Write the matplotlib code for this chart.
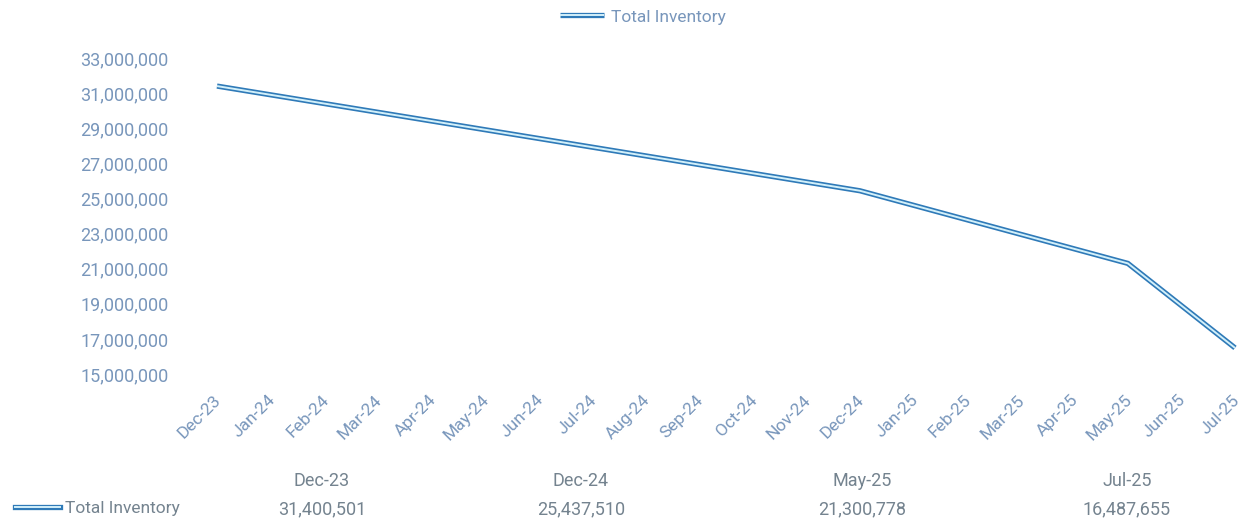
import matplotlib
matplotlib.use("Agg")
import matplotlib.pyplot as plt
import matplotlib.transforms as mtransforms
from matplotlib.lines import Line2D
from matplotlib.ticker import FuncFormatter

plt.rcParams['font.family'] = ['Roboto', 'DejaVu Sans']

# month categories on the x axis
months = ['Dec-23', 'Jan-24', 'Feb-24', 'Mar-24', 'Apr-24', 'May-24', 'Jun-24',
          'Jul-24', 'Aug-24', 'Sep-24', 'Oct-24', 'Nov-24', 'Dec-24', 'Jan-25',
          'Feb-25', 'Mar-25', 'Apr-25', 'May-25', 'Jun-25', 'Jul-25']

# only these months carry a value
point_months = ['Dec-23', 'Dec-24', 'May-25', 'Jul-25']
inventory = [31400501, 25437510, 21300778, 16487655]

y_ticks = [15000000, 17000000, 19000000, 21000000, 23000000,
           25000000, 27000000, 29000000, 31000000, 33000000]

series_name = 'Total Inventory'

dark = '#2f7ab8'
light = '#d2f0fa'
label_col = '#7896bb'
table_col = '#74838f'

fig = plt.figure(figsize=(12.41, 5.24), dpi=100)
ax = fig.add_axes([217 / 1241, 1 - 374 / 524, 1018 / 1241, 316 / 524])

xs = [months.index(m) for m in point_months]
outer, = ax.plot(xs, inventory, color=dark, lw=3.8, solid_joinstyle='miter',
                 solid_capstyle='butt', clip_on=False)
inner, = ax.plot(xs, inventory, color=light, lw=1.4, solid_joinstyle='miter',
                 solid_capstyle='butt', clip_on=False)

ax.set_xlim(0, len(months) - 1)
ax.set_ylim(y_ticks[0], y_ticks[-1])
ax.set_yticks(y_ticks)
ax.yaxis.set_major_formatter(FuncFormatter(lambda v, p: f'{int(v):,}'))
ax.set_xticks(range(len(months)))
ax.set_xticklabels(months)

for s in ax.spines.values():
    s.set_visible(False)
ax.tick_params(axis='both', length=0)
ax.tick_params(axis='y', labelsize=13, labelcolor=label_col, pad=35)
ax.tick_params(axis='x', labelsize=12.5, labelcolor=label_col, pad=17)

shift = mtransforms.ScaledTranslation(2 / 100, 0, fig.dpi_scale_trans)
for lab in ax.get_xticklabels():
    lab.set_rotation(45)
    lab.set_ha('right')
    lab.set_va('center')
    lab.set_rotation_mode('anchor')
    lab.set_transform(lab.get_transform() + shift)

# legend on top
ax.legend([(outer, inner)], [series_name], loc='center', bbox_to_anchor=(643 / 1241, 1 - 17 / 524),
          bbox_transform=fig.transFigure, frameon=False, fontsize=12.5,
          labelcolor=label_col, handlelength=2.5, handletextpad=0.4)

# data table under the chart
col_x = [322, 581, 862, 1127]
for cx, m, v in zip(col_x, point_months, inventory):
    fig.text(cx / 1241, 1 - 481 / 524, m, ha='center', va='center', fontsize=13, color=table_col)
    fig.text(cx / 1241, 1 - 509 / 524, f'{v:,}', ha='center', va='center', fontsize=13, color=table_col)

fig.legend([(Line2D([], [], color=dark, lw=3.8), Line2D([], [], color=light, lw=1.4))],
           [series_name], loc='center left', bbox_to_anchor=(15 / 1241, 1 - 508 / 524),
           frameon=False, fontsize=12.5, labelcolor=table_col, handlelength=2.6,
           handletextpad=0.3, borderpad=0, borderaxespad=0)

fig.savefig('out.png', dpi=100)
